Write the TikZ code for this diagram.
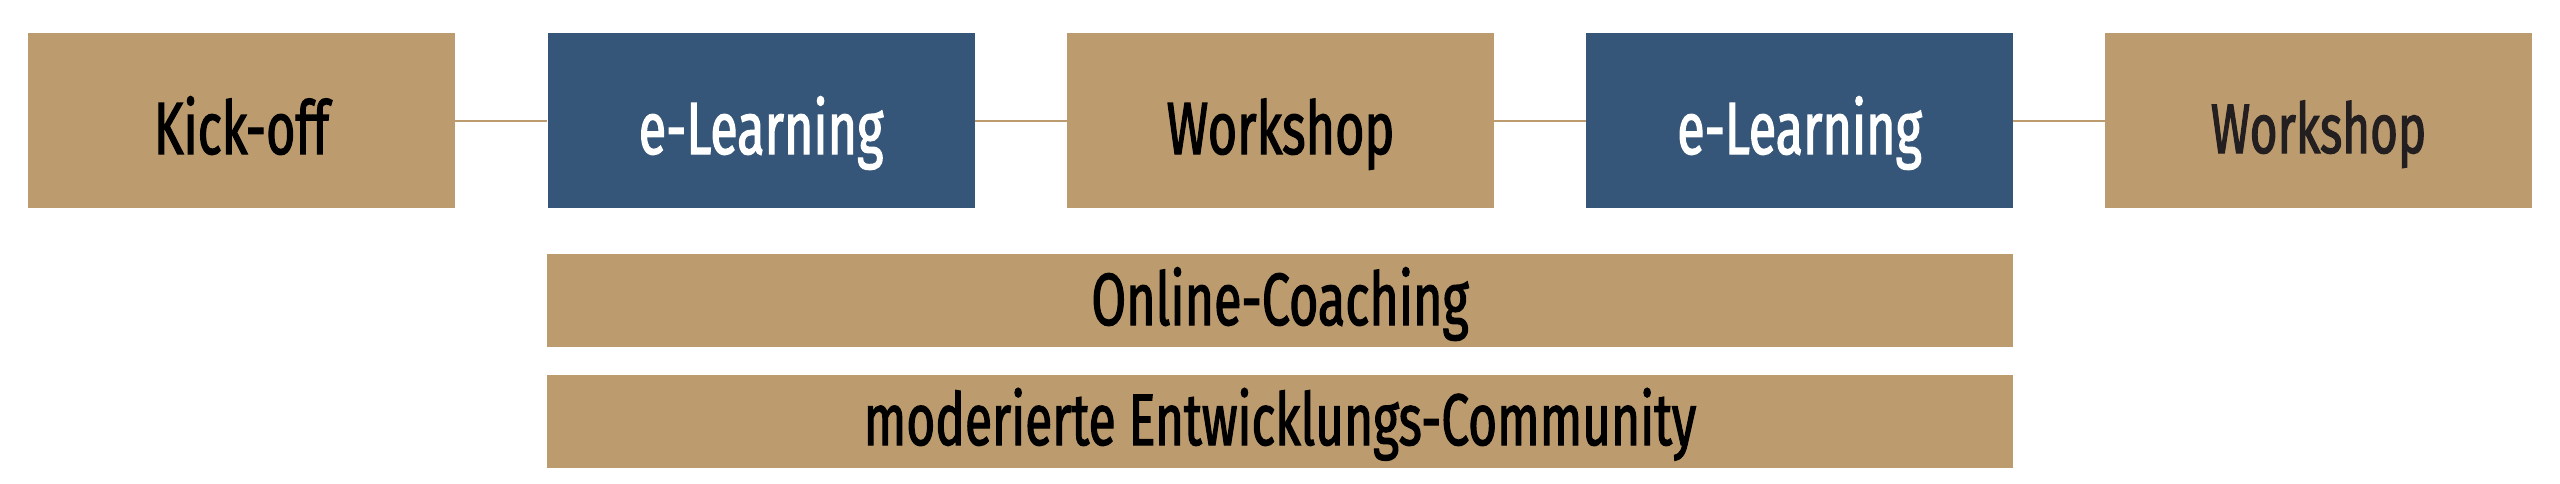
\documentclass[tikz,border=0pt]{standalone}
\usepackage{fontspec}
\setmainfont[FakeStretch=0.68,FakeBold=1.6]{Fira Sans}
\definecolor{tan}{HTML}{BC9C6E}
\definecolor{navy}{HTML}{365679}
\definecolor{darkgray}{HTML}{231F20}
\begin{document}
\begin{tikzpicture}[x=1pt,y=-1pt,
  stage/.style={fill=#1, draw=none, inner sep=0pt, minimum width=427pt, minimum height=175pt, anchor=center, font=\fontsize{74}{80}\selectfont, text height=67pt, text depth=0pt},
  bar/.style={fill=tan, draw=none, inner sep=0pt, minimum width=1466pt, minimum height=93pt, anchor=center, font=\fontsize{74}{80}\selectfont},
  link/.style={draw=tan, line width=2pt}]
\useasboundingbox[fill=white] (0,0) rectangle (2560,483);
\node[stage=tan, text=black] (k) at (241.5,120.5) {Kick-off};
\node[stage=navy, text=white] (e1) at (761,120.5) {e-Learning};
\node[stage=tan, text=black] (w1) at (1280.5,120.5) {Workshop};
\node[stage=navy, text=white] (e2) at (1799.5,120.5) {e-Learning};
\node[stage=tan, text=darkgray, font=\fontsize{70}{76}\selectfont, text height=65pt] (w2) at (2318.5,120.5) {Workshop};
\node[bar, text height=49pt, text depth=0pt] (oc) at (1280,300.5) {Online-Coaching};
\node[bar, font=\fontsize{73}{78}\selectfont, text height=47pt, text depth=0pt] (mc) at (1280,421.5) {moderierte Entwicklungs-Community};
\draw[link] (k.east) -- (e1.west);
\draw[link] (e1.east) -- (w1.west);
\draw[link] (w1.east) -- (e2.west);
\draw[link] (e2.east) -- (w2.west);
\end{tikzpicture}
\end{document}
